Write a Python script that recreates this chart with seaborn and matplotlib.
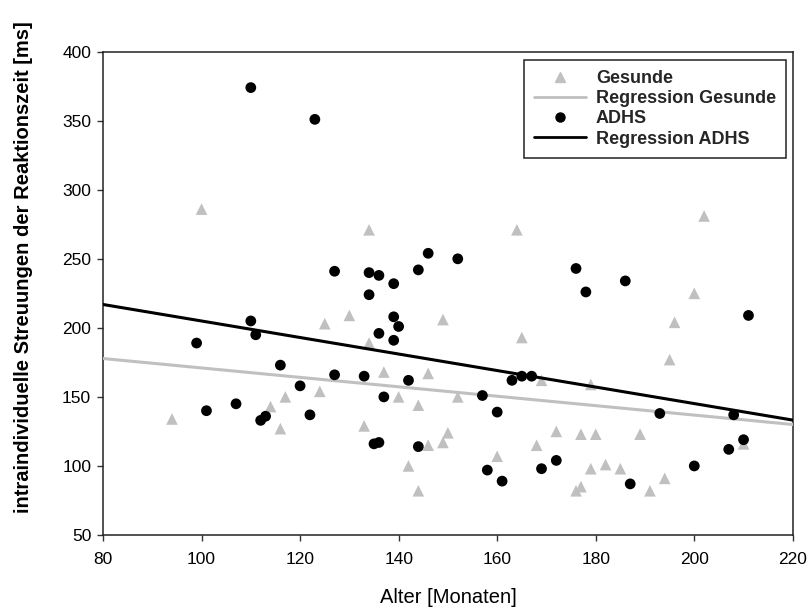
import numpy as np
import pandas as pd
import seaborn as sns
import matplotlib
matplotlib.use("Agg")
import matplotlib.pyplot as plt
from matplotlib.lines import Line2D

# Alter (Monate) und intraindividuelle Streuung (ms) – Gesunde
gesunde_alter = [94, 100, 114, 116, 117, 124, 125, 130, 133, 134, 134, 137, 140, 142,
                 144, 144, 146, 146, 149, 149, 150, 152, 160, 164, 165, 168, 169, 172,
                 176, 177, 177, 179, 179, 180, 182, 185, 189, 191, 194, 195, 196, 200,
                 202, 210]
gesunde_streuung = [134, 286, 143, 127, 150, 154, 203, 209, 129, 271, 189, 168, 150, 100,
                    82, 144, 167, 115, 206, 117, 124, 150, 107, 271, 193, 115, 162, 125,
                    82, 85, 123, 159, 98, 123, 101, 98, 123, 82, 91, 177, 204, 225,
                    281, 116]

# Alter (Monate) und intraindividuelle Streuung (ms) – ADHS
adhs_alter = [99, 101, 107, 110, 110, 111, 112, 113, 116, 120, 122, 123, 127, 127,
              133, 134, 134, 135, 136, 136, 136, 137, 139, 139, 139, 140, 142, 144,
              144, 146, 152, 157, 158, 160, 161, 163, 165, 167, 169, 172, 176, 178,
              186, 187, 193, 200, 207, 208, 210, 211]
adhs_streuung = [189, 140, 145, 374, 205, 195, 133, 136, 173, 158, 137, 351, 241, 166,
                 165, 240, 224, 116, 117, 238, 196, 150, 232, 208, 191, 201, 162, 242,
                 114, 254, 250, 151, 97, 139, 89, 162, 165, 165, 98, 104, 243, 226,
                 234, 87, 138, 100, 112, 137, 119, 209]

x_ticks = [80, 100, 120, 140, 160, 180, 200, 220]
y_ticks = [50, 100, 150, 200, 250, 300, 350, 400]

df_g = pd.DataFrame({"alter": gesunde_alter, "streuung": gesunde_streuung})
df_a = pd.DataFrame({"alter": adhs_alter, "streuung": adhs_streuung})

sns.set_theme(style="white")
plt.rcParams["font.family"] = ["Liberation Sans", "DejaVu Sans"]

grau = "#c0c0c0"
schwarz = "#000000"

fig = plt.figure(figsize=(8.09, 6.14), dpi=100)
ax = fig.add_axes([0.1273, 0.1287, 0.8527, 0.7871])
ax.set_xlim(80, 220)
ax.set_ylim(50, 400)

sns.scatterplot(data=df_g, x="alter", y="streuung", ax=ax, marker="^", s=70,
                color=grau, edgecolor="none", zorder=2)
sns.regplot(data=df_g, x="alter", y="streuung", ax=ax, scatter=False, ci=None,
            truncate=False, line_kws=dict(color=grau, lw=2.2, zorder=3))
sns.scatterplot(data=df_a, x="alter", y="streuung", ax=ax, marker="o", s=60,
                color=schwarz, edgecolor="none", zorder=4)
sns.regplot(data=df_a, x="alter", y="streuung", ax=ax, scatter=False, ci=None,
            truncate=False, line_kws=dict(color=schwarz, lw=2.2, zorder=5))

ax.set_xlim(80, 220)
ax.set_ylim(50, 400)
ax.set_xticks(x_ticks)
ax.set_yticks(y_ticks)
ax.tick_params(axis="both", which="major", labelsize=12.5, direction="out",
               length=4.5, width=1, color="#333333", bottom=True, left=True,
               labelcolor="black")
ax.tick_params(axis="y", pad=4)
ax.tick_params(axis="x", pad=8)
for sp in ax.spines.values():
    sp.set_color("#222222")
    sp.set_linewidth(1.1)

ax.set_xlabel("Alter [Monaten]", fontsize=14.5, color="black")
ax.set_ylabel("intraindividuelle Streuungen der Reaktionszeit [ms]", fontsize=14.5,
              fontweight="bold", color="black")
ax.xaxis.set_label_coords(0.5, -0.11)
ax.yaxis.set_label_coords(-0.101, 0.555)

handles = [
    Line2D([], [], marker="^", ls="none", color=grau, markersize=6.5),
    Line2D([], [], color=grau, lw=2),
    Line2D([], [], marker="o", ls="none", color=schwarz, markersize=6.5),
    Line2D([], [], color=schwarz, lw=2),
]
labels = ["Gesunde", "Regression Gesunde", "ADHS", "Regression ADHS"]
leg = ax.legend(handles, labels, loc="upper right", bbox_to_anchor=(0.99, 0.983),
                borderaxespad=0, frameon=True, fancybox=False, framealpha=1,
                edgecolor="#222222", prop={"weight": "bold", "size": 13},
                handlelength=2.9, handletextpad=0.55, labelspacing=0.18,
                borderpad=0.55)
leg.get_frame().set_linewidth(1.1)

fig.savefig("out.png", dpi=100)
